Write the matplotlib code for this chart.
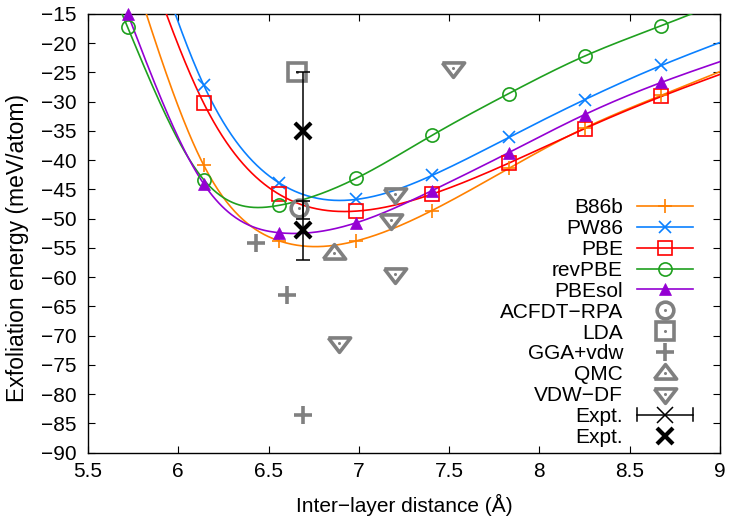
import numpy as np
import matplotlib
matplotlib.use("Agg")
import matplotlib.pyplot as plt
from matplotlib.lines import Line2D
from matplotlib.legend_handler import HandlerBase

plt.rcParams['font.family'] = ['Liberation Sans', 'DejaVu Sans']
plt.rcParams['axes.unicode_minus'] = True

# ---- functional curves (inter-layer distance in Angstrom, energy in meV/atom)
d_grid = [5.72, 6.14, 6.56, 6.985, 7.405, 7.83, 8.25, 8.675, 9.10]
e_b86b = [-5.0, -40.8, -53.8, -53.8, -48.6, -41.4, -34.5, -28.9, -23.6]
e_pw86 = [10.0, -27.1, -43.9, -46.7, -42.6, -36.1, -29.65, -23.8, -18.7]
e_pbe = [4.0, -30.2, -45.85, -48.7, -45.8, -40.5, -34.6, -29.1, -24.2]
e_revpbe = [-17.3, -43.3, -47.7, -43.1, -35.75, -28.6, -22.2, -17.0, -11.8]
e_pbesol = [-15.0, -44.0, -52.4, -50.7, -45.2, -38.7, -32.2, -26.7, -22.1]

# ---- reference values from other methods
rpa_d, rpa_e = [6.67], [-48.2]
lda_d, lda_e = [6.66], [-25.0]
ggavdw_d, ggavdw_e = [6.43, 6.60, 6.69], [-54.2, -63.1, -83.5]
qmc_d, qmc_e = [6.86], [-55.8]
vdwdf_d = [6.89, 7.18, 7.20, 7.20, 7.52]
vdwdf_e = [-71.2, -50.3, -59.4, -45.8, -24.2]

# ---- experiment
expt_d = [6.69, 6.69]
expt_e = [-35.0, -52.0]
expt_err_lo = [15.0, 5.0]
expt_err_hi = [10.0, 5.0]

xticks = [5.5, 6, 6.5, 7, 7.5, 8, 8.5, 9]
xticklabels = ['5.5', '6', '6.5', '7', '7.5', '8', '8.5', '9']
yticks = list(range(-90, -14, 5))

XMIN, XMAX, YMIN, YMAX = 5.5, 9.0, -90, -15

# flatter, gnuplot-like open triangles
TRI_UP = [(-1, -0.5), (1, -0.5), (0, 0.8), (-1, -0.5)]
TRI_DOWN = [(-1, 0.5), (1, 0.5), (0, -0.8), (-1, 0.5)]


def natural_spline(xk, yk, xs):
    """Natural cubic spline through the knots, extended with the end pieces."""
    xk = np.asarray(xk, float)
    yk = np.asarray(yk, float)
    n = len(xk)
    h = np.diff(xk)
    A = np.zeros((n, n))
    r = np.zeros(n)
    A[0, 0] = A[-1, -1] = 1.0
    for i in range(1, n - 1):
        A[i, i - 1] = h[i - 1]
        A[i, i] = 2 * (h[i - 1] + h[i])
        A[i, i + 1] = h[i]
        r[i] = 3 * ((yk[i + 1] - yk[i]) / h[i] - (yk[i] - yk[i - 1]) / h[i - 1])
    c = np.linalg.solve(A, r)
    b = np.diff(yk) / h - h * (2 * c[:-1] + c[1:]) / 3
    d = np.diff(c) / (3 * h)
    idx = np.clip(np.searchsorted(xk, xs) - 1, 0, n - 2)
    dx = xs - xk[idx]
    return yk[idx] + b[idx] * dx + c[idx] * dx ** 2 + d[idx] * dx ** 3


class HandlerGnuErrorbar(HandlerBase):
    """Horizontal bar with end caps and a marker in the middle."""

    def create_artists(self, legend, orig_handle, xdescent, ydescent,
                       width, height, fontsize, trans):
        y = height / 2 - ydescent
        x0, x1 = -xdescent, width - xdescent
        cap = 4.5
        arts = [
            Line2D([x0, x1], [y, y], color='black', lw=1.1),
            Line2D([x0, x0], [y - cap, y + cap], color='black', lw=1.1),
            Line2D([x1, x1], [y - cap, y + cap], color='black', lw=1.1),
            Line2D([(x0 + x1) / 2], [y], marker='x', ms=11, mew=1.1,
                   color='black', ls='none'),
        ]
        for a in arts:
            a.set_transform(trans)
        return arts


fig = plt.figure(figsize=(7.29, 5.17), dpi=100)
ax = fig.add_axes([88 / 729, 1 - 452.7 / 517, 632 / 729, 438.7 / 517])

xs = np.linspace(5.6, 9.1, 600)
d_arr = np.asarray(d_grid)

series = [
    ('B86b', e_b86b, '#ff8000', dict(marker='+', ms=10, mew=1.2)),
    ('PW86', e_pw86, '#0a80ff', dict(marker='x', ms=9, mew=1.2)),
    ('PBE', e_pbe, '#ff0000', dict(marker='s', ms=9.5, mew=1.2, mfc='none')),
    ('revPBE', e_revpbe, '#1fa01f', dict(marker='o', ms=9.5, mew=1.2, mfc='none')),
    ('PBEsol', e_pbesol, '#9400d3', dict(marker='^', ms=9, mew=0.5)),
]

handles = []
labels = []
for name, e, col, mk in series:
    e_arr = np.asarray(e, float)
    ax.plot(xs, natural_spline(d_arr, e_arr, xs), color=col, lw=1.2, zorder=3)
    inside = (e_arr <= YMAX + 1e-9) & (d_arr <= XMAX)
    ax.plot(d_arr[inside], e_arr[inside], ls='none', color=col, clip_on=False,
            zorder=4, **mk)
    handles.append(Line2D([], [], color=col, lw=1.2, **mk))
    labels.append(name)

gray = '#808080'
gray_sets = [
    ('ACFDT\u2212RPA', rpa_d, rpa_e, 'o', 12),
    ('LDA', lda_d, lda_e, 's', 12.5),
    ('GGA+vdw', ggavdw_d, ggavdw_e, '+', 13),
    ('QMC', qmc_d, qmc_e, TRI_UP, 16),
    ('VDW\u2212DF', vdwdf_d, vdwdf_e, TRI_DOWN, 16),
]
for name, dd, ee, m, ms in gray_sets:
    ax.plot(dd, ee, ls='none', marker=m, ms=ms, mew=2.6, mfc='none',
            mec=gray, clip_on=False, zorder=5)
    main = Line2D([], [], ls='none', marker=m, ms=ms, mew=2.6, mfc='none', mec=gray)
    if not (isinstance(m, str) and m == '+'):
        ax.plot(dd, ee, ls='none', marker='o', ms=2.2, mew=0, mfc=gray,
                clip_on=False, zorder=5)
        dot = Line2D([], [], ls='none', marker='o', ms=2.2, mew=0, mfc=gray)
        handles.append((main, dot))
    else:
        handles.append(main)
    labels.append(name)

ax.errorbar(expt_d, expt_e, yerr=[expt_err_lo, expt_err_hi], fmt='x',
            color='black', ms=11, mew=1.1, elinewidth=1.1, capsize=4.7,
            capthick=1.1, zorder=6)
errproxy = Line2D([], [], color='black')
handles.append(errproxy)
labels.append('Expt.')
ax.plot(expt_d, expt_e, ls='none', marker='x', ms=11, mew=3.0, color='black',
        zorder=7)
handles.append(Line2D([], [], ls='none', marker='x', ms=11, mew=3.0, color='black'))
labels.append('Expt.')

leg = ax.legend(handles, labels, loc='upper right',
                bbox_to_anchor=(0.957, 0.580), frameon=False, markerfirst=False,
                fontsize=15, labelspacing=0.09, handlelength=2.7,
                handletextpad=0.65, borderpad=0, borderaxespad=0,
                handler_map={errproxy: HandlerGnuErrorbar()})
for t in leg.get_texts():
    t.set_ha('right')
leg._legend_box.align = 'right'

ax.set_xlim(XMIN, XMAX)
ax.set_ylim(YMIN, YMAX)
ax.set_xticks(xticks)
ax.set_xticklabels(xticklabels)
ax.set_yticks(yticks)
ax.tick_params(direction='in', length=4.8, width=0.8, top=True, right=True,
               labelsize=15)
ax.tick_params(axis='x', pad=7)
ax.tick_params(axis='y', pad=8.5)
for s in ax.spines.values():
    s.set_linewidth(1.0)

ax.set_xlabel('Inter\u2212layer distance (\u00c5)', fontsize=15, va='center')
ax.xaxis.set_label_coords(0.5, -0.119)
ax.set_ylabel('Exfoliation energy (meV/atom)', fontsize=16.5, va='center')
ax.yaxis.set_label_coords(-0.1108, 0.4655)

fig.savefig('out.png', dpi=100)
